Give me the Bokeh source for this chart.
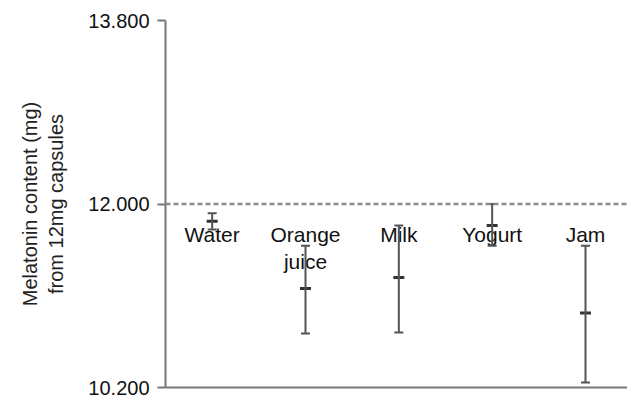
from bokeh.plotting import figure
from bokeh.models import (ColumnDataSource, Range1d, FixedTicker, NumeralTickFormatter,
                          Whisker, TeeHead, Span)
from bokeh.core.properties import value
from bokeh.embed import file_html
from bokeh.resources import INLINE

categories = ["Water", "Orange\njuice", "Milk", "Yogurt", "Jam"]
means = [11.83, 11.17, 11.28, 11.79, 10.93]
upper = [11.91, 11.59, 11.79, 12.00, 11.59]
lower = [11.75, 10.73, 10.74, 11.59, 10.25]
reference_level = 12.0
y_ticks = [10.2, 12.0, 13.8]
label_y = 11.81

xpos = [i + 0.5 for i in range(len(categories))]
src = ColumnDataSource(dict(x=xpos, cat=categories, mean=means, upper=upper, lower=lower,
                            ly=[label_y] * len(categories)))

FONT = "Liberation Sans"
p = figure(width=627, height=397, output_backend="svg", toolbar_location=None,
           x_range=Range1d(0, 4.95), y_range=Range1d(y_ticks[0], y_ticks[-1]),
           min_border_left=165, min_border_right=0, min_border_top=20, min_border_bottom=10)
p.background_fill_color = "white"
p.border_fill_color = "white"
p.outline_line_color = None
p.grid.visible = False

# y axis
ya = p.yaxis[0]
ya.ticker = FixedTicker(ticks=y_ticks, minor_ticks=[])
ya.formatter = NumeralTickFormatter(format="0.000")
ya.axis_label = "Melatonin content (mg)\nfrom 12mg capsules"
ya.axis_label_text_font = FONT
ya.axis_label_text_font_style = "normal"
ya.axis_label_text_font_size = "20px"
ya.axis_label_text_color = "#222222"
ya.axis_label_standoff = 18
ya.major_label_text_font = FONT
ya.major_label_text_font_size = "20px"
ya.major_label_text_color = "#111111"
ya.major_label_standoff = 8
ya.major_tick_out = 8
ya.major_tick_in = 0
ya.minor_tick_out = 0
ya.minor_tick_in = 0
ya.axis_line_color = "#777777"
ya.axis_line_width = 2
ya.major_tick_line_color = "#777777"
ya.major_tick_line_width = 2

# x axis: line only
xa = p.xaxis[0]
xa.ticker = FixedTicker(ticks=[], minor_ticks=[])
xa.major_tick_out = 0
xa.major_tick_in = 0
xa.minor_tick_out = 0
xa.major_label_text_font_size = "0px"
xa.axis_line_color = "#777777"
xa.axis_line_width = 2

# reference dashed line
p.add_layout(Span(location=reference_level, dimension="width", line_color="#8a8a8a",
                  line_width=2.5, line_dash="5 3"))

# error bars
bar_col = "#555555"
w = Whisker(source=src, base="x", upper="upper", lower="lower", dimension="height",
            line_color=bar_col, line_width=2, level="glyph",
            upper_head=TeeHead(size=9, line_color=bar_col, line_width=2),
            lower_head=TeeHead(size=9, line_color=bar_col, line_width=2))
p.add_layout(w)
p.scatter("x", "mean", source=src, marker="dash", size=11, line_color="#333333",
          line_width=3)

# category labels
p.text("x", "ly", text="cat", source=src, text_align="center", text_baseline="top",
       text_font=value(FONT), text_font_size="21px", text_color="#111111",
       text_line_height=1.15)

open("out.html", "w").write(file_html(p, INLINE))
